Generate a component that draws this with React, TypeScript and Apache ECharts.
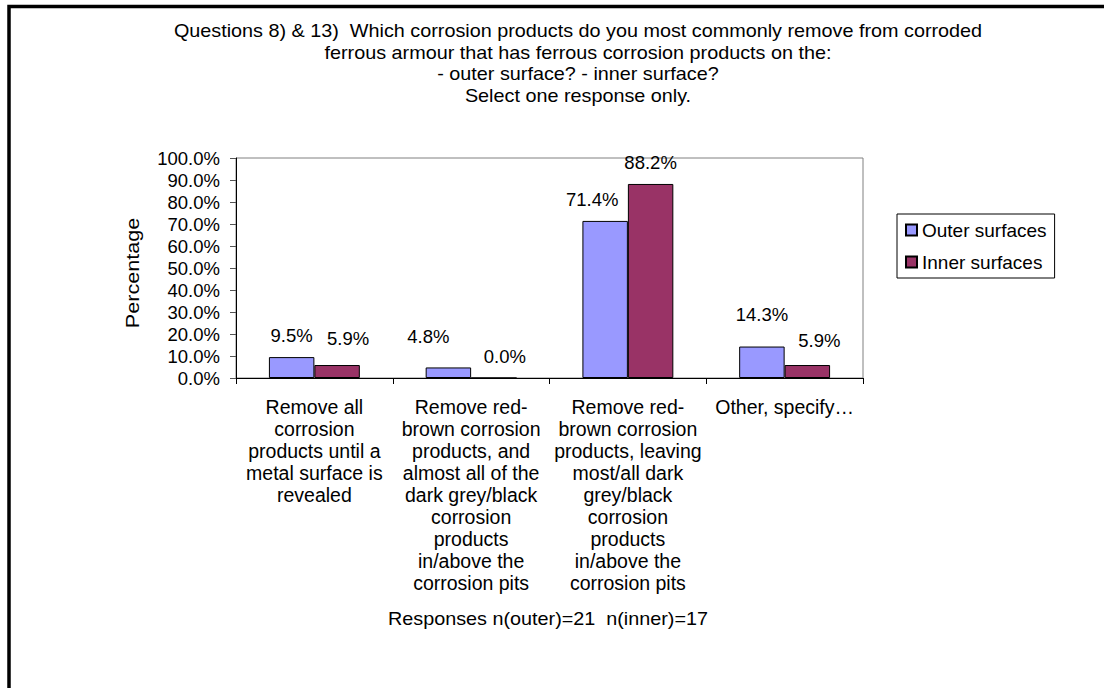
import React, { useEffect, useRef } from "react";
import * as echarts from "echarts";

// Survey answers (percent of respondents) for each removal approach
const categories = [
  "Remove all\ncorrosion\nproducts until a\nmetal surface is\nrevealed",
  "Remove red-\nbrown corrosion\nproducts, and\nalmost all of the\ndark grey/black\ncorrosion\nproducts\nin/above the\ncorrosion pits",
  "Remove red-\nbrown corrosion\nproducts, leaving\nmost/all dark\ngrey/black\ncorrosion\nproducts\nin/above the\ncorrosion pits",
  "Other, specify\u2026",
];
const outerValues = [9.5, 4.8, 71.4, 14.3];
const innerValues = [5.9, 0.0, 88.2, 5.9];
const seriesNames = ["Outer surfaces", "Inner surfaces"];

const titleLines = [
  "Questions 8) & 13)  Which corrosion products do you most commonly remove from corroded",
  "ferrous armour that has ferrous corrosion products on the:",
  "- outer surface? - inner surface?",
  "Select one response only.",
];
const footerText = "Responses n(outer)=21  n(inner)=17";
const yAxisName = "Percentage";

// Small nudges that keep neighbouring value labels apart
const outerLabelNudge = [[0, 0], [-20, -9], [-13, 0], [0, -11]];
const innerLabelNudge = [[11, -5], [11, 0], [0, 0], [12, -3]];

const FONT = "Liberation Sans, Arial, sans-serif";

export default function App() {
  const ref = useRef<HTMLDivElement>(null);

  useEffect(() => {
    if (!ref.current) return;
    const chart = echarts.init(ref.current, null, { renderer: "svg" });

    const pct = (v: number) => `${v.toFixed(1)}%`;
    const mkData = (vals: number[], nudges: number[][]) =>
      vals.map((v, i) => ({ value: v, label: { offset: nudges[i] } }));

    const barLabel = {
      show: true,
      position: "top",
      distance: 12,
      fontFamily: FONT,
      fontSize: 18.5,
      color: "#000",
      formatter: (p: any) => pct(p.value),
    };

    chart.setOption({
      animation: false,
      backgroundColor: "#fff",
      textStyle: { fontFamily: FONT },
      graphic: [
        {
          type: "rect",
          shape: { x: 9, y: 6.5, width: 1300, height: 900 },
          style: { fill: "none", stroke: "#000", lineWidth: 3.5 },
          silent: true,
        },
        {
          type: "text",
          x: 578,
          y: 20,
          scaleX: 1.1,
          style: {
            text: titleLines.join("\n"),
            font: `18px ${FONT}`,
            fill: "#000",
            textAlign: "center",
            lineHeight: 21.7,
          },
        },
        {
          type: "text",
          x: 548,
          y: 610,
          scaleX: 1.1,
          style: {
            text: footerText,
            font: `18px ${FONT}`,
            fill: "#000",
            textAlign: "center",
          },
        },
        {
          type: "text",
          x: 133,
          y: 273,
          rotation: Math.PI / 2,
          scaleX: 1.2,
          style: {
            text: yAxisName,
            font: `18px ${FONT}`,
            fill: "#000",
            textAlign: "center",
            textVerticalAlign: "middle",
          },
        },
      ],
      legend: {
        orient: "vertical",
        left: 897,
        top: 214,
        padding: [6, 8],
        itemGap: 12,
        itemWidth: 11,
        itemHeight: 11,
        borderColor: "#000",
        borderWidth: 1,
        icon: "rect",
        textStyle: { fontFamily: FONT, fontSize: 19, color: "#000", lineHeight: 20 },
        data: seriesNames,
      },
      grid: {
        left: 236,
        right: 241,
        top: 158,
        bottom: 310,
        show: true,
        borderColor: "#808080",
        borderWidth: 1,
        backgroundColor: "#fff",
      },
      xAxis: {
        type: "category",
        data: categories,
        axisLine: { lineStyle: { color: "#000", width: 1 } },
        axisTick: { show: true, length: 6, lineStyle: { color: "#000" } },
        axisLabel: {
          interval: 0,
          margin: 18,
          fontFamily: FONT,
          fontSize: 19.5,
          color: "#000",
          lineHeight: 22,
          align: "center",
        },
        splitLine: { show: false },
      },
      yAxis: {
        type: "value",
        min: 0,
        max: 100,
        interval: 10,
        axisLine: { show: true, lineStyle: { color: "#000", width: 1 } },
        axisTick: { show: true, length: 6, lineStyle: { color: "#555" } },
        axisLabel: {
          margin: 16,
          fontFamily: FONT,
          fontSize: 18.5,
          color: "#000",
          formatter: (v: number) => pct(v),
        },
        splitLine: { show: false },
      },
      series: [
        {
          name: seriesNames[0],
          type: "bar",
          data: mkData(outerValues, outerLabelNudge),
          barGap: "0%",
          barCategoryGap: "42%",
          itemStyle: { color: "#9999FF", borderColor: "#000", borderWidth: 1 },
          label: barLabel,
        },
        {
          name: seriesNames[1],
          type: "bar",
          data: mkData(innerValues, innerLabelNudge),
          barGap: "0%",
          barCategoryGap: "42%",
          itemStyle: { color: "#993366", borderColor: "#000", borderWidth: 1 },
          label: barLabel,
        },
      ],
    });

    return () => chart.dispose();
  }, []);

  return (
    <div
      style={{
        position: "fixed",
        left: 0,
        top: 0,
        width: 1104,
        height: 688,
        overflow: "hidden",
        background: "#fff",
      }}
    >
      <div ref={ref} style={{ width: 1104, height: 688 }} />
    </div>
  );
}
